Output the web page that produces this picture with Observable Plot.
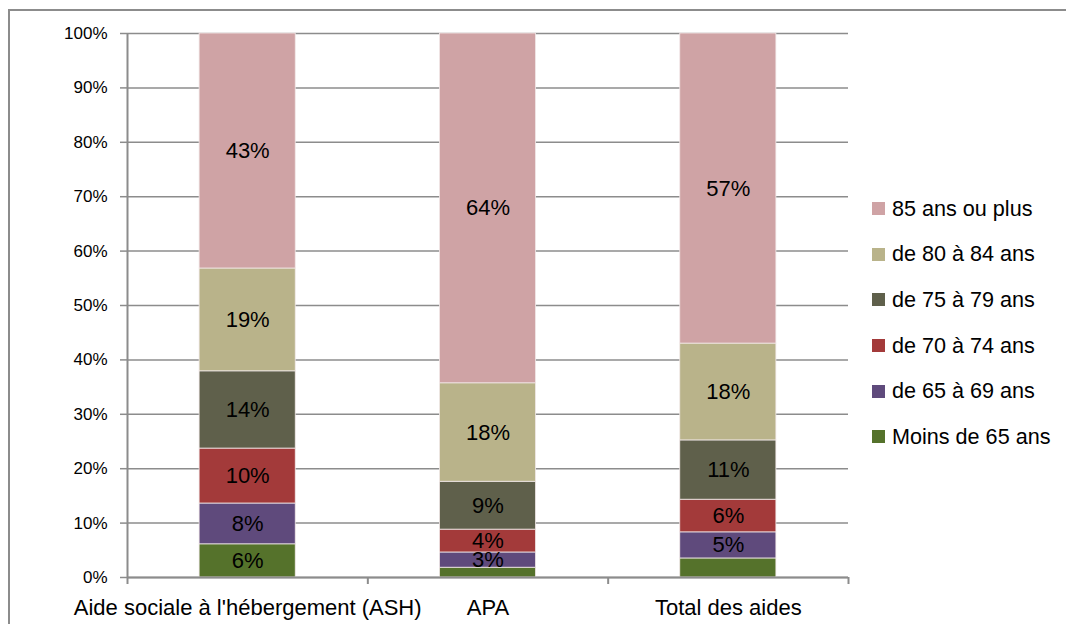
<!DOCTYPE html>
<html>
<head>
<meta charset="utf-8">
<script src="https://cdn.jsdelivr.net/npm/d3@7"></script>
<script src="https://cdn.jsdelivr.net/npm/@observablehq/plot@0.6"></script>
<style>
  html, body { margin: 0; padding: 0; background: #fff; overflow: hidden; }
  #wrap { position: relative; width: 1066px; height: 624px; font-family: "Liberation Sans", Arial, sans-serif; }
  #border { position: absolute; left: 8px; top: 9px; width: 1200px; height: 800px; border: 2px solid #8c8c8c; box-sizing: border-box; }
  #chart { position: absolute; left: 0; top: 0; }
  #legend { position: absolute; left: 872px; top: 186px; }
  .item { display: flex; align-items: center; height: 45.6px; font-size: 21.6px; color: #000; white-space: nowrap; }
  .sw { width: 13px; height: 13px; margin-right: 7px; flex: none; }
</style>
</head>
<body>
<div id="wrap">
  <div id="border"></div>
  <div id="chart"></div>
  <div id="legend"></div>
</div>
<script>
// Categories (x axis)
const categories = ["Aide sociale à l'hébergement (ASH)", "APA", "Total des aides"];
// Age groups, bottom to top
const ages = ["Moins de 65 ans", "de 65 à 69 ans", "de 70 à 74 ans", "de 75 à 79 ans", "de 80 à 84 ans", "85 ans ou plus"];
const colors = ["#55722b", "#5f4a7c", "#a33a3a", "#5f604b", "#b9b38a", "#cfa3a5"];
// Shares (%) per age group, one value per category
const moins65 = [6.1, 1.8, 3.5];
const de65a69 = [7.5, 2.8, 4.8];
const de70a74 = [10.1, 4.2, 6.0];
const de75a79 = [14.2, 8.8, 10.9];
const de80a84 = [18.9, 18.1, 17.8];
const plus85  = [43.2, 64.3, 57.0];
const series = [moins65, de65a69, de70a74, de75a79, de80a84, plus85];
// Labels not displayed in the original chart
const hiddenLabels = [["APA", "Moins de 65 ans"], ["Total des aides", "Moins de 65 ans"]];
const yTicks = [0, 10, 20, 30, 40, 50, 60, 70, 80, 90, 100];

// Build stacked table
const rows = [];
categories.forEach((cat, i) => {
  let acc = 0;
  ages.forEach((age, j) => {
    const v = series[j][i];
    rows.push({cat, i, age, value: v, y1: acc, y2: acc + v,
      hidden: hiddenLabels.some(([c, a]) => c === cat && a === age)});
    acc += v;
  });
});

const half = 0.2; // bar half-width in category units
const gray = "#8c8c8c";

const plot = Plot.plot({
  width: 1066,
  height: 624,
  marginLeft: 127,
  marginRight: 218,
  marginTop: 33,
  marginBottom: 47,
  style: {fontFamily: "'Liberation Sans', Arial, sans-serif", background: "transparent", overflow: "visible"},
  x: {domain: [-0.5, categories.length - 0.5]},
  y: {domain: [0, 100]},
  color: {domain: ages, range: colors},
  marks: [
    Plot.gridY(yTicks, {stroke: gray, strokeOpacity: 1, strokeWidth: 1.5}),
    Plot.axisY({ticks: yTicks, tickSize: 7, tickPadding: 13, tickFormat: d => d + "%", stroke: gray, strokeWidth: 1.5, fontSize: 17, fill: "#000", label: null}),
    Plot.rect(rows, {x1: d => d.i - half, x2: d => d.i + half, y1: "y1", y2: "y2", fill: "age", stroke: "#f2e9e9", strokeWidth: 0.8}),
    Plot.ruleX([-0.5], {stroke: gray, strokeWidth: 2}),
    Plot.ruleY([0], {stroke: gray, strokeWidth: 2}),
    Plot.axisX({ticks: d3.range(-0.5, categories.length, 1), tickSize: 7, tickFormat: () => "", stroke: gray, strokeWidth: 2, label: null}),
    Plot.axisX({ticks: d3.range(0, categories.length), tickSize: 0, tickPadding: 22, tickFormat: i => categories[i], fontSize: 22, fill: "#000", label: null}),
    Plot.text(rows.filter(d => !d.hidden), {x: "i", y: d => (d.y1 + d.y2) / 2, text: d => Math.round(d.value) + "%", fontSize: 22, fill: "#000"})
  ]
});
document.getElementById("chart").appendChild(plot);

// Legend (top to bottom: oldest first)
const legend = document.getElementById("legend");
ages.slice().reverse().forEach(age => {
  const item = document.createElement("div");
  item.className = "item";
  const sw = document.createElement("span");
  sw.className = "sw";
  sw.style.background = colors[ages.indexOf(age)];
  const label = document.createElement("span");
  label.textContent = age;
  item.appendChild(sw);
  item.appendChild(label);
  legend.appendChild(item);
});
</script>
</body>
</html>
